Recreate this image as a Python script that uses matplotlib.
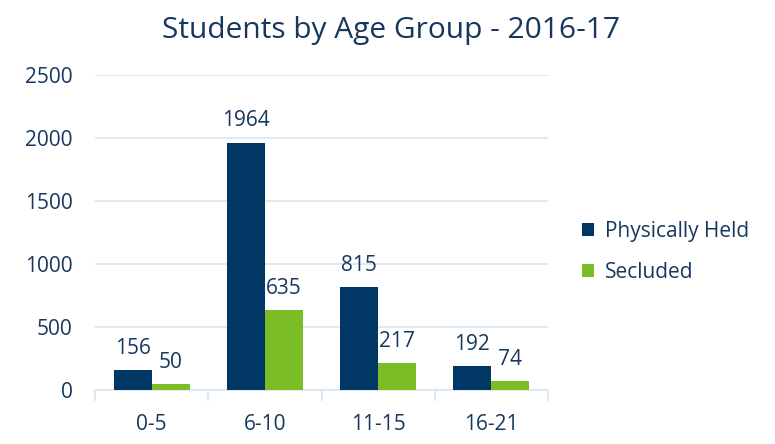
import matplotlib.pyplot as plt
import numpy as np

categories = ["0-5", "6-10", "11-15", "16-21"]
held = [156, 1964, 815, 192]
secluded = [50, 635, 217, 74]
series_names = ["Physically Held", "Secluded"]

navy = "#003764"
green = "#7bbd24"
text_col = "#17375e"
grid_col = "#d6e6f4"

plt.rcParams["font.family"] = ["Open Sans", "DejaVu Sans"]

fig = plt.figure(figsize=(7.75, 4.44), dpi=100)
ax = fig.add_axes([0.1226, 0.1216, 0.5845, 0.7095])

x = np.arange(len(categories))
w = 0.335
b1 = ax.bar(x - w / 2, held, w, color=navy, label=series_names[0], zorder=3)
b2 = ax.bar(x + w / 2, secluded, w, color=green, label=series_names[1], zorder=3)

for bars in (b1, b2):
    for r in bars:
        ax.annotate(f"{r.get_height():.0f}", (r.get_x() + r.get_width() / 2, r.get_height()),
                    xytext=(0, 8), textcoords="offset points", ha="center", va="bottom",
                    fontsize=15, color=text_col)

ax.set_ylim(0, 2500)
ax.set_xlim(-0.5, len(categories) - 0.5)
ax.set_yticks(range(0, 2501, 500))
ax.yaxis.grid(True, color=grid_col, linewidth=1.2, zorder=0)
ax.set_axisbelow(True)

# category boundary ticks
ax.set_xticks(x)
ax.set_xticklabels(categories)
ax.set_xticks(np.arange(-0.5, len(categories), 1), minor=True)
ax.tick_params(axis="x", which="major", length=0, pad=17, labelsize=15, labelcolor=text_col)
ax.tick_params(axis="x", which="minor", length=8, color=grid_col, width=1.2)
ax.tick_params(axis="y", length=0, pad=16, labelsize=15, labelcolor=text_col)

for s in ("top", "right", "left"):
    ax.spines[s].set_visible(False)
ax.spines["bottom"].set_color(grid_col)
ax.spines["bottom"].set_linewidth(1.2)

# title is centred on the whole figure, not the axes
fig.text(0.505, 1 - 38 / 444, "Students by Age Group - 2016-17", fontsize=21.5,
         color=text_col, ha="center", va="baseline")

fig.legend(loc="center left", bbox_to_anchor=(0.751, 0.433), frameon=False,
           fontsize=15, labelcolor=text_col, handlelength=0.58, handleheight=0.58,
           labelspacing=0.98, handletextpad=0.53, borderpad=0, borderaxespad=0)

fig.savefig("out.png", dpi=100)
